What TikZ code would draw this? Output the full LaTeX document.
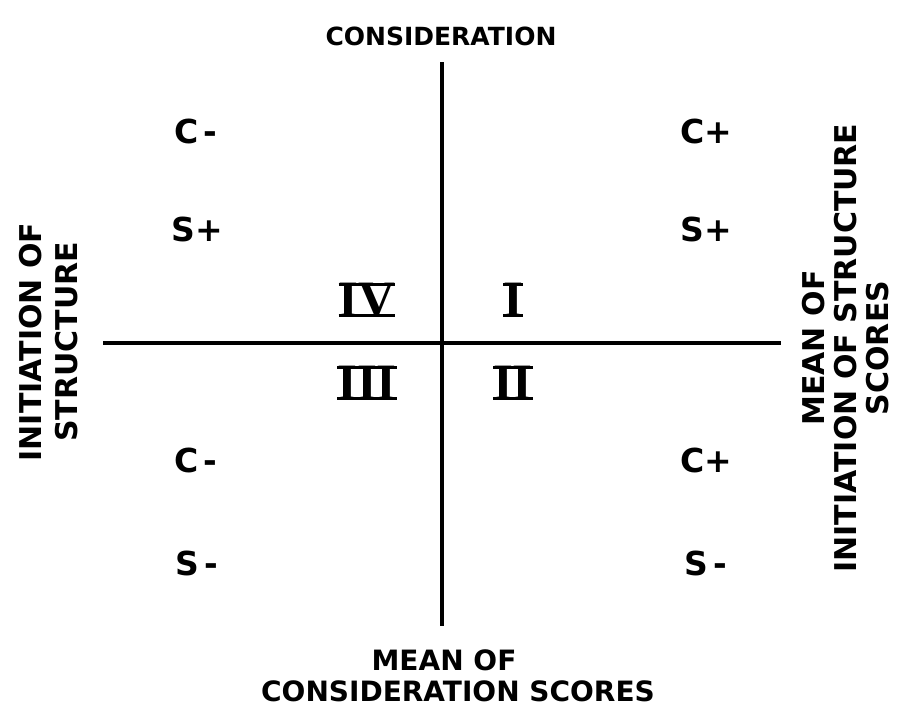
\documentclass[tikz,border=0pt]{standalone}
\usepackage{fontspec}
\setmainfont{DejaVu Sans}
\newfontfamily\numfont{Liberation Serif}
\usetikzlibrary{positioning}

% roman numeral with joined top and bottom bars
\newcommand{\barred}[1]{\setbox0\hbox{#1}%
  \rlap{\rule[-0.5pt]{\wd0}{3.5pt}}\rlap{\rule[\dimexpr\ht0-3pt]{\wd0}{3.5pt}}\box0}

\tikzset{
  axis/.style={line width=3.5pt},
  title/.style={font=\bfseries\fontsize{25}{30}\selectfont, inner sep=0pt},
  sidetext/.style={font=\bfseries\fontsize{30}{32}\selectfont, align=center, inner sep=0pt, rotate=90},
  quad/.style={font=\bfseries\fontsize{33}{38}\selectfont, inner sep=0pt},
  num/.style={font=\numfont\bfseries\fontsize{51}{53}\selectfont, inner sep=0pt}
}

\begin{document}
\begin{tikzpicture}[x=1pt, y=-1pt]
  \useasboundingbox (0,0) rectangle (897,713);

  % axes
  \coordinate (top) at (442,62);
  \coordinate (bottom) at (442,626);
  \coordinate (left) at (103,343);
  \coordinate (right) at (781,343);
  \draw[axis] (top) -- (bottom);
  \draw[axis] (left) -- (right);

  % axis labels
  \node[title] (cons) at (441,36) {CONSIDERATION};
  \node[title, font=\bfseries\fontsize{28}{31}\selectfont, align=center] (meancons) at (458,676) {\hspace*{-28pt}MEAN OF\\CONSIDERATION SCORES};
  \node[sidetext, font=\bfseries\fontsize{30}{36}\selectfont] (init) at (49,342) {INITIATION OF\\STRUCTURE};
  \node[sidetext] (meaninit) at (846,348) {MEAN OF\\INITIATION OF STRUCTURE\\SCORES};

  % quadrant letters
  \node[quad] (c1) at (196,131) {C\,-};
  \node[quad] (s1) at (197,229) {S+};
  \node[quad] (c2) at (706,131) {C+};
  \node[quad] (s2) at (706,229) {S+};
  \node[quad] (c3) at (196,460) {C\,-};
  \node[quad] (s3) at (197,563) {S\,-};
  \node[quad] (c4) at (706,460) {C+};
  \node[quad] (s4) at (706,563) {S\,-};

  % quadrant numbers
  \node[num] (q4) at (367,300) {\barred{IV}};
  \node[num] (q1) at (513,300) {\barred{I}};
  \node[num] (q3) at (367,383) {\barred{III}};
  \node[num] (q2) at (513,383) {\barred{II}};
\end{tikzpicture}
\end{document}
